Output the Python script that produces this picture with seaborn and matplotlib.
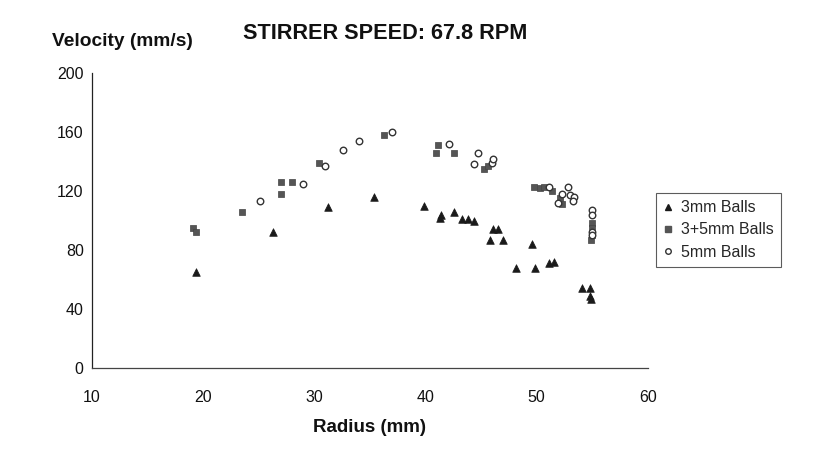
import matplotlib
matplotlib.use("Agg")
import matplotlib.pyplot as plt
import seaborn as sns
import pandas as pd
from matplotlib.lines import Line2D

# ---- data ----
r_3mm = [19.4, 26.3, 31.2, 35.4, 39.9, 41.3, 41.4, 42.6, 43.3, 43.8, 44.4, 45.8,
         46.1, 46.5, 47.0, 48.2, 49.6, 49.9, 51.1, 51.6, 54.1, 54.8, 54.8, 54.9]
v_3mm = [65, 92, 109, 116, 110, 102, 104, 106, 101, 101, 100, 87,
         94, 94, 87, 68, 84, 68, 71, 72, 54, 54, 49, 47]

r_35mm = [19.1, 19.4, 23.5, 27.0, 27.0, 28.0, 30.4, 36.3, 41.1, 41.0, 42.6, 45.3,
          45.6, 49.8, 50.3, 50.7, 51.4, 52.1, 52.3, 55.0, 55.0, 55.0, 54.9]
v_35mm = [95, 92, 106, 118, 126, 126, 139, 158, 151, 146, 146, 135,
          137, 123, 122, 123, 120, 115, 111, 98, 95, 90, 87]

r_5mm = [25.1, 29.0, 31.0, 32.6, 34.0, 37.0, 42.1, 44.4, 44.7, 46.0, 46.1, 51.1,
         52.8, 52.3, 53.0, 53.4, 53.3, 51.9, 55.0, 55.0, 55.0, 55.0]
v_5mm = [113, 125, 137, 148, 154, 160, 152, 138, 146, 139, 142, 123,
         123, 118, 117, 116, 113, 112, 107, 104, 92, 90]

series_names = ["3mm Balls", "3+5mm Balls", "5mm Balls"]
x_ticks = [10, 20, 30, 40, 50, 60]
y_ticks = [0, 40, 80, 120, 160, 200]

df = pd.concat([
    pd.DataFrame({"Radius": r_3mm, "Velocity": v_3mm, "Series": series_names[0]}),
    pd.DataFrame({"Radius": r_35mm, "Velocity": v_35mm, "Series": series_names[1]}),
    pd.DataFrame({"Radius": r_5mm, "Velocity": v_5mm, "Series": series_names[2]}),
])

sns.set_style("white")
plt.rcParams["font.family"] = ["Liberation Sans", "DejaVu Sans"]

fig = plt.figure(figsize=(8.25, 4.65), dpi=100)
ax = fig.add_axes([0.1115, 0.2086, 0.6735, 0.6344])

styles = {
    series_names[0]: dict(marker="^", s=30, color="#1a1a1a", edgecolor="#1a1a1a", linewidth=0.5),
    series_names[1]: dict(marker="s", s=24, color="#555555", edgecolor="#444444", linewidth=0.5),
    series_names[2]: dict(marker="o", s=22, facecolor="white", edgecolor="#333333", linewidth=1.0),
}
for name in series_names:
    sub = df[df["Series"] == name]
    sns.scatterplot(data=sub, x="Radius", y="Velocity", ax=ax, legend=False, zorder=3,
                    **styles[name])

ax.set_xlim(10, 60)
ax.set_ylim(0, 200)
ax.set_xticks(x_ticks)
ax.set_yticks(y_ticks)
ax.set_xticklabels([str(t) for t in x_ticks])
ax.set_yticklabels([str(t) for t in y_ticks])

for s in ["top", "right"]:
    ax.spines[s].set_visible(False)
ax.spines["left"].set_color("#222222")
ax.spines["bottom"].set_color("#444444")
ax.spines["left"].set_linewidth(0.9)
ax.spines["bottom"].set_linewidth(0.9)
ax.tick_params(axis="both", direction="inout", length=8, width=0.8, color="#222222",
               labelsize=11.5, labelcolor="#111111")
ax.tick_params(axis="y", pad=2)
ax.tick_params(axis="x", pad=12)

ax.set_xlabel("")
ax.set_ylabel("")
fig.text(0.448, 0.08, "Radius (mm)", fontsize=13.5, fontweight="bold", color="#111111",
         ha="center", va="center")
fig.text(0.063, 0.91, "Velocity (mm/s)", fontsize=13.8, fontweight="bold", color="#111111",
         ha="left", va="center")
fig.text(0.467, 0.929, "STIRRER SPEED: 67.8 RPM", fontsize=15.6, fontweight="bold",
         color="#111111", ha="center", va="center")

handles = [
    Line2D([], [], linestyle="none", marker="^", markersize=4.5, color="#1a1a1a"),
    Line2D([], [], linestyle="none", marker="s", markersize=4, color="#555555"),
    Line2D([], [], linestyle="none", marker="o", markersize=4, markerfacecolor="white",
           markeredgecolor="#333333"),
]
leg = fig.legend(handles, series_names, loc="upper left", bbox_to_anchor=(0.795, 0.585),
                 frameon=True, fancybox=False, fontsize=11.5, handlelength=0.6,
                 handletextpad=0.5, borderpad=0.45, labelspacing=0.45, borderaxespad=0)
leg.get_frame().set_edgecolor("#333333")
leg.get_frame().set_linewidth(0.8)

fig.savefig("out.png", dpi=100)
